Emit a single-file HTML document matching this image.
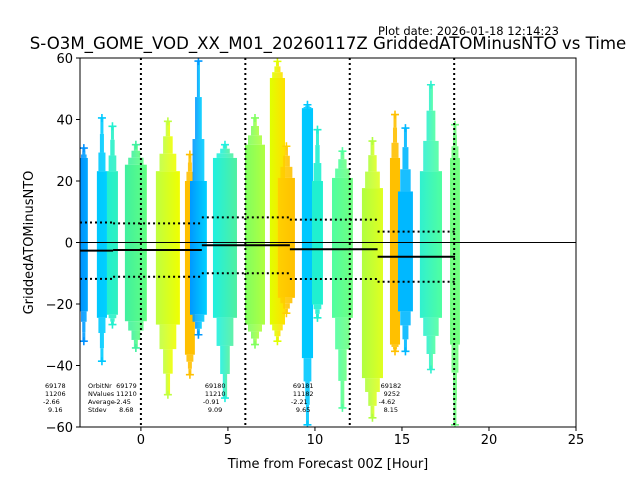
<!DOCTYPE html>
<html><head><meta charset="utf-8"><style>
body{margin:0;background:#fff;}
svg{display:block;font-family:"DejaVu Sans","Liberation Sans",sans-serif;}
</style></head><body>
<svg id="chart" width="640" height="480" viewBox="0 0 640 480">
<defs id="defs"></defs>
<text x="378" y="35" font-size="11.5" fill="#000">Plot date: 2026-01-18 12:14:23</text>
<text x="328" y="49" font-size="16.6" text-anchor="middle" fill="#000">S-O3M_GOME_VOD_XX_M01_20260117Z GriddedATOMinusNTO vs Time</text>
<g id="plot" clip-path="url(#clip)"></g>
<g id="axes"></g>
<text x="328" y="468" font-size="13" text-anchor="middle">Time from Forecast 00Z [Hour]</text>
<text transform="translate(33,242.5) rotate(-90)" font-size="13" text-anchor="middle">GriddedATOMinusNTO</text>
<g id="annot" font-size="6.5" fill="#000"></g>
</svg>
<script>
// data
const colX0 = [-3.51,-2.53,-1.95,-0.92,0.86,2.53,2.82,4.14,5.98,7.41,7.87,9.25,9.83,10.98,12.70,14.31,14.77,16.03,17.76];
const colX1 = [-3.05,-1.95,-1.32,0.34,2.24,3.10,3.79,5.52,7.13,8.28,8.85,9.89,10.46,12.18,13.91,14.89,15.63,17.30,18.33];
const coreTop = [27.5,23.2,23.2,25.3,23.2,20,20,27.5,31.8,53.5,21,43.7,20,21,17.7,27.5,16.6,23.2,27.5];
const coreBot = [-22.4,-24.5,-23.5,-25.6,-26.7,-36.5,-23.5,-24.5,-26.7,-26.7,-18,-37.6,-20.2,-24.5,-44.1,-33.2,-22.4,-24.5,-33.2];
const outTop = [30.7,40.5,37.8,31.8,39.4,28.6,59,31.8,40.5,58.9,31.3,44.8,36.7,29.7,33,41.6,37.2,51.3,38.3];
const outBot = [-32.1,-38.6,-26.7,-34.3,-49.5,-43,-30,-50.6,-33.2,-32.1,-23,-59.3,-24.5,-53.8,-57,-35.4,-35.4,-41.3,-59.3];
const colC0 = ["#0090ff","#00c8ff","#20f0d0","#40f0a0","#c0ff40","#ffc000","#0098ff","#20f0e0","#80ff60","#e0ff00","#ffd000","#00c8ff","#20f0d0","#50ffa0","#b0ff40","#ffc000","#00b8ff","#30f0d0","#70ff80"];
const colC1 = ["#00a8ff","#00d0ff","#30f0c0","#60ff80","#f0ff00","#ffc000","#00d0ff","#50f0a0","#b0ff40","#ffe000","#ffc000","#00c8ff","#20f0d0","#70ff80","#e0ff20","#ffc000","#00b8ff","#50ffa0","#70ff80"];
const orbitNr = ["69178","69179","69180","69181","69182"];
const orbitN = ["11206","11210","11210","11182","9252"];
const orbitStart = [-3.5,-1.6,3.5,8.56,13.6];
const orbitEnd = [-1.6,3.5,8.56,13.6,18.05];
const orbitMean = [-2.66,-2.45,-0.91,-2.21,-4.62];
const orbitStd = [9.16,8.68,9.09,9.65,8.15];
const vLines = [0,6,12,18];
const xTicks = [0,5,10,15,20,25];
const yTicks = [-60,-40,-20,0,20,40,60];

const L=80,R=576,T=58,B=427, XMIN=-3.5, XMAX=25, YMIN=-60, YMAX=60;
const sx=v=>L+(v-XMIN)/(XMAX-XMIN)*(R-L);
const sy=v=>B-(v-YMIN)/(YMAX-YMIN)*(B-T);
const NS="http://www.w3.org/2000/svg";
function mk(t,a,p){const e=document.createElementNS(NS,t);for(const k in a)e.setAttribute(k,a[k]);p.appendChild(e);return e;}
const defs=document.getElementById('defs'), plot=document.getElementById('plot'), axes=document.getElementById('axes'), annot=document.getElementById('annot');
const cp=mk('clipPath',{id:'clip'},defs); mk('rect',{x:L,y:T,width:R-L,height:B-T},cp);

function plus(x,y,c,p){
  const g=mk('path',{d:`M${x-4},${y}H${x+4}M${x},${y-4}V${y+4}`,stroke:c,'stroke-width':1.6,fill:'none'},p);
  
  
}
const steps=[[0,0.35,0.7],[0.35,0.7,0.4],[0.7,1,0.18]];
for(let i=0;i<colX0.length;i++){
  const gr=mk('linearGradient',{id:'g'+i,x1:0,x2:1,y1:0,y2:0},defs);
  mk('stop',{offset:0,'stop-color':colC0[i]},gr); mk('stop',{offset:1,'stop-color':colC1[i]},gr);
  const x0=sx(colX0[i]),x1=sx(colX1[i]),w=x1-x0,cx=(x0+x1)/2;
  const g=mk('g',{},plot);
  
  
  const ct=sy(coreTop[i]),cb=sy(coreBot[i]),ot=sy(outTop[i]),ob=sy(outBot[i]);
  steps.forEach(s=>{
    const ww=Math.max(3,w*s[2]);
    // upper tail
    const ya=ct-(ct-ot)*s[1], yb=ct-(ct-ot)*s[0];
    mk('rect',{x:cx-ww/2,y:ya,width:ww,height:Math.max(0,yb-ya),fill:'url(#g'+i+')',opacity:0.9},g);
    const za=cb+(ob-cb)*s[0], zb=cb+(ob-cb)*s[1];
    mk('rect',{x:cx-ww/2,y:za,width:ww,height:Math.max(0,zb-za),fill:'url(#g'+i+')',opacity:0.9},g);
  });
  const core=mk('rect',{x:x0,y:ct,width:w,height:cb-ct,fill:'url(#g'+i+')'},g);
  
  
  plus(cx,ot,colC0[i],g); plus(cx,ob,colC0[i],g);
}
// zero line
const zl=mk('line',{x1:L,x2:R,y1:sy(0),y2:sy(0),stroke:'#000','stroke-width':1},plot);


// vertical dotted
vLines.forEach(v=>{const l=mk('line',{x1:sx(v),x2:sx(v),y1:T,y2:B,stroke:'#000','stroke-width':2,'stroke-dasharray':'2,3'},plot);

});
// orbit stats
for(let i=0;i<orbitMean.length;i++){
  const a=sx(orbitStart[i]),b=sx(orbitEnd[i]);
  const m=mk('line',{x1:a,x2:b,y1:sy(orbitMean[i]),y2:sy(orbitMean[i]),stroke:'#000','stroke-width':2},plot);
  
  
  [1,-1].forEach(s=>{const d=mk('line',{x1:a,x2:b,y1:sy(orbitMean[i]+s*orbitStd[i]),y2:sy(orbitMean[i]+s*orbitStd[i]),stroke:'#000','stroke-width':2,'stroke-dasharray':'2,3'},plot);
  
  });
  const cx=sx(orbitStart[i])+(i==0?-35:3);
  const vals=[orbitNr[i],orbitN[i],orbitMean[i].toFixed(2),orbitStd[i].toFixed(2)];
  vals.forEach((v,k)=>{const t=mk('text',{x:cx+(v.length<5?3:0)-(v[0]=='-'?2:0),y:388+k*8},annot);t.textContent=v;
  
  });
}
['OrbitNr','NValues','Average','Stdev'].forEach((v,k)=>{const t=mk('text',{x:88,y:388+k*8},annot);t.textContent=v;

});
// axes frame
const fr=mk('rect',{x:L,y:T,width:R-L,height:B-T,fill:'none',stroke:'#000','stroke-width':1},axes);


xTicks.forEach(v=>{mk('line',{x1:sx(v),x2:sx(v),y1:B,y2:B+4,stroke:'#000'},axes);
const t=mk('text',{x:sx(v),y:B+17,'font-size':13,'text-anchor':'middle'},axes);t.textContent=v;

});
yTicks.forEach(v=>{mk('line',{x1:L-4,x2:L,y1:sy(v),y2:sy(v),stroke:'#000'},axes);
const t=mk('text',{x:L-7,y:sy(v)+5,'font-size':13,'text-anchor':'end'},axes);t.textContent=v<0?'\u2212'+(-v):v;

});
</script>
</body></html>
